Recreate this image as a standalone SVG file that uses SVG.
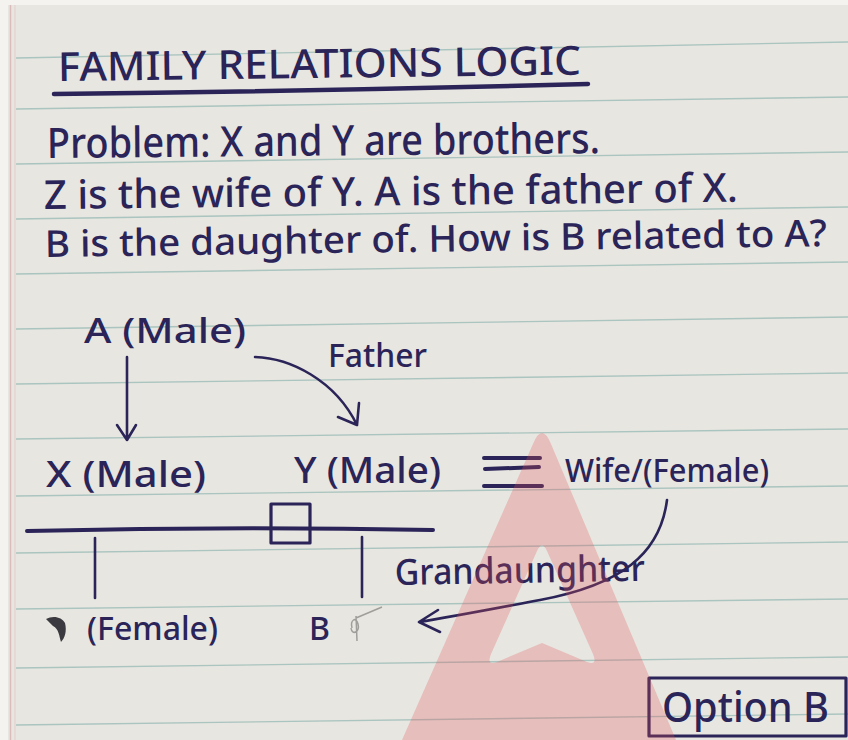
<svg xmlns="http://www.w3.org/2000/svg" width="848" height="740" viewBox="0 0 848 740">
<style>
.ink{fill:#2a2458;font-family:"Noto Sans","DejaVu Sans",sans-serif;font-weight:500;}
.stroke{fill:none;stroke:#2a2458;stroke-linecap:round;stroke-linejoin:round;}
.rule{stroke:#aac4bf;stroke-width:1.4;}
</style>
<rect x="0" y="0" width="848" height="740" fill="#f4f3f0"/>
<rect x="8" y="5" width="840" height="735" fill="#e8e6e0"/>
<line x1="10.5" y1="5" x2="10.5" y2="740" stroke="#dcbcbb" stroke-width="1.5"/>
<line x1="15" y1="5" x2="15" y2="740" stroke="#e4cccb" stroke-width="1"/>
<g id="rules" class="rule">
<line x1="16" y1="58" x2="848" y2="42"/>
<line x1="16" y1="109" x2="848" y2="97"/>
<line x1="16" y1="164" x2="848" y2="152"/>
<line x1="16" y1="219" x2="848" y2="207"/>
<line x1="16" y1="274" x2="848" y2="262"/>
<line x1="16" y1="329" x2="848" y2="317"/>
<line x1="16" y1="384" x2="848" y2="373"/>
<line x1="16" y1="439" x2="848" y2="429"/>
<line x1="16" y1="496" x2="848" y2="486"/>
<line x1="16" y1="553" x2="848" y2="542"/>
<line x1="16" y1="609" x2="848" y2="599"/>
<line x1="16" y1="668" x2="848" y2="657"/>
<line x1="16" y1="725" x2="848" y2="714"/>
</g>
<g id="header">
<text class="ink" x="58" y="81" font-size="40" textLength="523" lengthAdjust="spacingAndGlyphs" transform="rotate(-0.7 58 81)">FAMILY RELATIONS LOGIC</text>
<path class="stroke" d="M54,94 Q320,91 588,84" stroke-width="4.5"/>
<text class="ink" x="47" y="158" font-size="42" textLength="553" lengthAdjust="spacingAndGlyphs" transform="rotate(-0.5 47 158)">Problem: X and Y are brothers.</text>
<text class="ink" x="44" y="209" font-size="40" textLength="694" lengthAdjust="spacingAndGlyphs" transform="rotate(-0.6 44 209)">Z is the wife of Y. A is the father of X.</text>
<text class="ink" x="45" y="257" font-size="37" textLength="782" lengthAdjust="spacingAndGlyphs" transform="rotate(-0.8 45 257)">B is the daughter of. How is B related to A?</text>
</g>
<g id="connectors" class="stroke" stroke-width="2.6">
<path d="M127,357 L127,440 M117,425 L127,440 L136,425"/>
<path d="M255,357 C290,358 335,380 357,425 M338,417 L357,425 L359,403"/>
<path d="M484,458 L540,458 M485,469 L539,467 M484,486 L542,486" stroke-width="4"/>
<path d="M27,531 Q230,526 433,530" stroke-width="4"/>
<path d="M95,538 L95,598"/>
<path d="M362,537 L362,597"/>
<path d="M667,500 C660,555 620,585 540,600 S450,617 419,622 M438,610 L419,622 L440,632"/>
</g>
<g id="node-A"><text class="ink" x="84" y="343" font-size="35" textLength="162" lengthAdjust="spacingAndGlyphs">A (Male)</text></g>
<g id="label-father"><text class="ink" x="328" y="367" font-size="32" textLength="99" lengthAdjust="spacingAndGlyphs">Father</text></g>
<g id="node-X"><text class="ink" x="46" y="487" font-size="37" textLength="160" lengthAdjust="spacingAndGlyphs">X (Male)</text></g>
<g id="node-Y"><text class="ink" x="294" y="483" font-size="36" textLength="147" lengthAdjust="spacingAndGlyphs">Y (Male)</text></g>
<g id="node-wife"><text class="ink" x="565" y="482" font-size="33" textLength="204" lengthAdjust="spacingAndGlyphs">Wife/(Female)</text></g>
<g id="node-square"><rect class="stroke" x="271" y="504" width="39" height="39" stroke-width="3.2"/></g>
<g id="label-grand"><text class="ink" x="395" y="585" font-size="36" textLength="250" lengthAdjust="spacingAndGlyphs" transform="rotate(-1 395 585)">Grandaunghter</text></g>
<g id="node-female">
<path d="M46,619 C53,615 62,617 65,623 C67,631 65,638 61,642 C59,636 59,629 53,626 Z" fill="#3a3a40"/>
<text class="ink" x="87" y="640" font-size="33" textLength="131" lengthAdjust="spacingAndGlyphs">(Female)</text>
</g>
<g id="node-B">
<text class="ink" x="309" y="640" font-size="32">B</text>
<path d="M352,628 C350,620 356,616 358,624 C360,632 352,636 351,628 M356,616 L357,641 M356,618 L382,607" fill="none" stroke="#8d8c88" stroke-width="1.5" opacity="0.8"/>
</g>
<g id="answer">
<rect class="stroke" x="649" y="678" width="197" height="58" stroke-width="3.2"/>
<text class="ink" x="662" y="722" font-size="42" textLength="167" lengthAdjust="spacingAndGlyphs">Option B</text>
</g>
<path id="watermark" fill-rule="evenodd" fill="rgb(225,80,88)" opacity="0.27" d="M402,740 L533,444 Q542,422 551,444 L676,740 Z M537,551 Q542,540 547,551 L593,654 Q598,666 587,662 L542,643 L497,662 Q486,666 491,654 Z"/>
</svg>
